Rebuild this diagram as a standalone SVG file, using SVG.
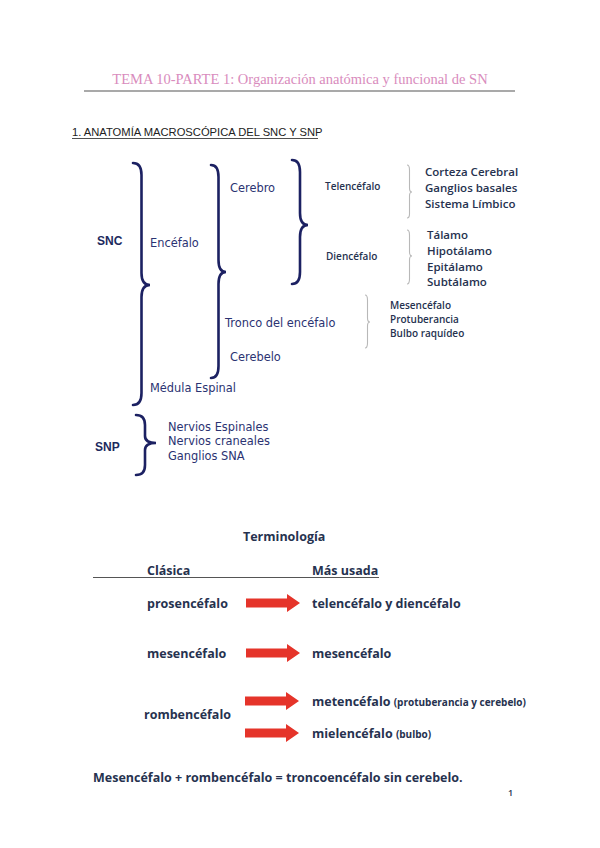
<svg xmlns="http://www.w3.org/2000/svg" width="600" height="848" viewBox="0 0 600 848">
<style>
.title{font-family:"Liberation Serif",serif;font-size:14.5px;fill:#d98cbd}
.h1{font-family:"Liberation Sans",sans-serif;font-size:11.2px;fill:#222}
.brace{fill:none;stroke:#1c2162;stroke-width:2.6;stroke-linecap:round}
.gbrace{fill:none;stroke:#b8b8b8;stroke-width:1.1}
.cm{font-family:"DejaVu Sans",sans-serif;font-size:11.4px;fill:#2b3372}
.bold{font-family:"Liberation Sans",sans-serif;font-weight:bold;font-size:12px;fill:#1c2a5e}
.cal{font-family:"Open Sans",sans-serif;font-weight:600;fill:#26324f}
.tb{font-family:"Open Sans",sans-serif;font-weight:bold;font-size:12.5px;fill:#26324f}
.arrow{fill:#e5342a}
</style>
<rect width="600" height="848" fill="#fff"/>
<g id="header">
<text class="title" x="300" y="84" text-anchor="middle">TEMA 10-PARTE 1: Organización anatómica y funcional de SN</text>
<line x1="84" y1="91" x2="515" y2="91" stroke="#555" stroke-width="1.2"/>
<text class="h1" x="72" y="136">1. ANATOMÍA MACROSCÓPICA DEL SNC Y SNP</text>
<line x1="72" y1="138.5" x2="318" y2="138.5" stroke="#222" stroke-width="0.8"/>
</g>
<g id="connectors">
<path class="brace" d="M133,163 Q141.5,163 141.5,175 L141.5,273 Q141.5,285 150,285 Q141.5,285 141.5,297 L141.5,393 Q141.5,405 133,405"/>
<path class="brace" d="M211,165 Q218.5,165 218.5,177 L218.5,260 Q218.5,272 226,272 Q218.5,272 218.5,284 L218.5,366 Q218.5,378 211,378"/>
<path class="brace" d="M292,160 Q300,160 300,172 L300,213 Q300,225 308,225 Q300,225 300,237 L300,272 Q300,284 292,284"/>
<path class="brace" d="M136,415 Q145,415 145,425 L145,436 Q145,443 156,443 Q145,443 145,450 L145,465 Q145,475 136,475"/>
<path class="gbrace" d="M407,165 Q409.5,165 409.5,170 L409.5,188 Q409.5,192 412,192 Q409.5,192 409.5,196 L409.5,214 Q409.5,218 407,218"/>
<path class="gbrace" d="M407,230 Q409.5,230 409.5,235 L409.5,252 Q409.5,256 412,256 Q409.5,256 409.5,260 L409.5,279 Q409.5,284 407,284"/>
<path class="gbrace" d="M365,295 Q367.5,295 367.5,300 L367.5,318 Q367.5,322 370,322 Q367.5,322 367.5,326 L367.5,343 Q367.5,348 365,348"/>
</g>
<g id="snc"><text class="bold" x="97" y="245">SNC</text></g>
<g id="encefalo"><text class="cm" x="150" y="247">Encéfalo</text></g>
<g id="cerebro"><text class="cm" x="230" y="192">Cerebro</text></g>
<g id="telencefalo"><text class="cal" font-size="10" x="325" y="190">Telencéfalo</text></g>
<g id="diencefalo"><text class="cal" font-size="10" x="326" y="260">Diencéfalo</text></g>
<g id="tel-parts">
<text class="cal" font-size="11.5" x="425" y="176">Corteza Cerebral</text>
<text class="cal" font-size="11.5" x="425" y="192">Ganglios basales</text>
<text class="cal" font-size="11.5" x="425" y="208">Sistema Límbico</text>
</g>
<g id="dien-parts">
<text class="cal" font-size="11.5" x="427" y="239">Tálamo</text>
<text class="cal" font-size="11.5" x="427" y="255">Hipotálamo</text>
<text class="cal" font-size="11.5" x="427" y="271">Epitálamo</text>
<text class="cal" font-size="11.5" x="427" y="286">Subtálamo</text>
</g>
<g id="tronco-parts">
<text class="cal" font-size="10" x="390" y="309">Mesencéfalo</text>
<text class="cal" font-size="10" x="390" y="323">Protuberancia</text>
<text class="cal" font-size="10" x="390" y="337">Bulbo raquídeo</text>
</g>
<g id="tronco"><text class="cm" x="225" y="327">Tronco del encéfalo</text></g>
<g id="cerebelo"><text class="cm" x="230" y="361">Cerebelo</text></g>
<g id="medula"><text class="cm" x="150" y="392">Médula Espinal</text></g>
<g id="snp"><text class="bold" x="95" y="451">SNP</text></g>
<g id="snp-parts">
<text class="cm" x="168" y="431">Nervios Espinales</text>
<text class="cm" x="168" y="445">Nervios craneales</text>
<text class="cm" x="168" y="460">Ganglios SNA</text>
</g>
<g id="terminologia">
<text class="tb" x="243" y="541">Terminología</text>
<text class="tb" x="147" y="575">Clásica</text>
<text class="tb" x="312" y="575">Más usada</text>
<line x1="93" y1="577.5" x2="379" y2="577.5" stroke="#555" stroke-width="1"/>
</g>
<defs>
<path id="arr" d="M0,-4.5 L41,-4.5 L41,-9 L54,0 L41,9 L41,4.5 L0,4.5 Z"/>
</defs>
<g id="row-prosencefalo">
<text class="tb" x="147" y="608">prosencéfalo</text>
<use href="#arr" class="arrow" x="246" y="603"/>
<text class="tb" x="312" y="608">telencéfalo y diencéfalo</text>
</g>
<g id="row-mesencefalo">
<text class="tb" x="147" y="658">mesencéfalo</text>
<use href="#arr" class="arrow" x="246" y="653"/>
<text class="tb" x="312" y="658">mesencéfalo</text>
</g>
<g id="row-rombencefalo">
<text class="tb" x="144" y="719">rombencéfalo</text>
<use href="#arr" class="arrow" x="245" y="701"/>
<use href="#arr" class="arrow" x="245" y="733"/>
<text class="tb" x="312" y="706">metencéfalo <tspan font-size="10">(protuberancia y cerebelo)</tspan></text>
<text class="tb" x="312" y="738">mielencéfalo <tspan font-size="10">(bulbo)</tspan></text>
</g>
<g id="summary">
<text class="tb" font-size="13.2" x="93" y="782">Mesencéfalo + rombencéfalo = troncoencéfalo sin cerebelo.</text>
<text class="cal" font-size="9" x="508" y="796">1</text>
</g>
</svg>
